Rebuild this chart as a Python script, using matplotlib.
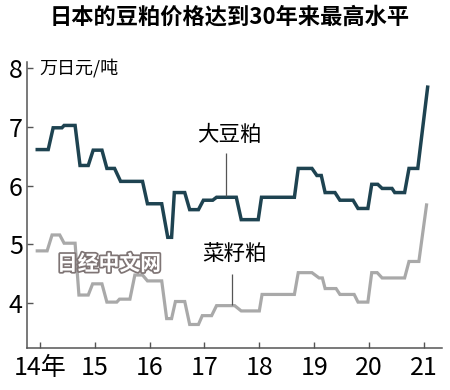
import matplotlib
matplotlib.use("Agg")
from matplotlib import pyplot as plt
from matplotlib import patheffects

plt.rcParams["font.family"] = ["Noto Sans CJK SC", "DejaVu Sans"]

# step-line vertices (year, 10k yen per tonne)
soy_x = [13.95, 14.15, 14.24, 14.40, 14.44, 14.64, 14.73, 14.88, 14.97, 15.13,
         15.22, 15.36, 15.47, 15.87, 15.96, 16.22, 16.33, 16.40, 16.45, 16.64,
         16.73, 16.89, 16.98, 17.15, 17.22, 17.58, 17.67, 17.98, 18.04, 18.64,
         18.71, 18.96, 19.05, 19.13, 19.20, 19.38, 19.47, 19.71, 19.80, 19.98,
         20.05, 20.16, 20.24, 20.42, 20.47, 20.65, 20.73, 20.89, 21.07]
soy_y = [6.61, 6.61, 6.98, 6.98, 7.02, 7.02, 6.34, 6.34, 6.60, 6.60,
         6.29, 6.29, 6.07, 6.07, 5.69, 5.69, 5.12, 5.12, 5.88, 5.88,
         5.59, 5.59, 5.75, 5.75, 5.80, 5.80, 5.42, 5.42, 5.80, 5.80,
         6.29, 6.29, 6.17, 6.17, 5.88, 5.88, 5.75, 5.75, 5.61, 5.61,
         6.02, 6.02, 5.95, 5.95, 5.88, 5.88, 6.29, 6.29, 7.67]

rape_x = [13.95, 14.13, 14.22, 14.36, 14.44, 14.64, 14.71, 14.88, 14.96, 15.13,
          15.22, 15.40, 15.45, 15.64, 15.73, 15.87, 15.96, 16.22, 16.31, 16.40,
          16.47, 16.64, 16.73, 16.89, 16.96, 17.13, 17.22, 17.55, 17.67, 18.00,
          18.05, 18.64, 18.71, 18.96, 19.09, 19.15, 19.20, 19.40, 19.47, 19.73,
          19.80, 19.98, 20.05, 20.15, 20.24, 20.65, 20.73, 20.91, 21.05]
rape_y = [4.89, 4.89, 5.16, 5.16, 5.02, 5.02, 4.14, 4.14, 4.33, 4.33,
          4.02, 4.02, 4.07, 4.07, 4.48, 4.48, 4.38, 4.38, 3.74, 3.74,
          4.03, 4.03, 3.64, 3.64, 3.79, 3.79, 3.96, 3.96, 3.87, 3.87,
          4.15, 4.15, 4.52, 4.52, 4.43, 4.43, 4.25, 4.25, 4.15, 4.15,
          4.02, 4.02, 4.52, 4.52, 4.43, 4.43, 4.71, 4.71, 5.67]

x_ticks = [14, 15, 16, 17, 18, 19, 20, 21]
x_labels = ["14年", "15", "16", "17", "18", "19", "20", "21"]
y_ticks = [4, 5, 6, 7, 8]

tick_font = ["Liberation Sans Narrow", "Noto Sans CJK SC"]

fig = plt.figure(figsize=(4.5, 3.9), dpi=100)
ax = fig.add_axes([0.06, 0.107, 0.922, 0.734])

ax.plot(rape_x, rape_y, color="#a9a9a9", lw=2.3, solid_joinstyle="miter")
ax.plot(soy_x, soy_y, color="#1e4351", lw=2.5, solid_joinstyle="miter")

ax.set_xlim(13.763, 21.33)
ax.set_ylim(3.236, 8.097)

ax.set_xticks(x_ticks)
ax.set_xticklabels(x_labels, family=tick_font, fontsize=18)
ax.set_yticks(y_ticks)
ax.set_yticklabels([str(v) for v in y_ticks], family=tick_font, fontsize=18)
ax.tick_params(direction="in", length=4, width=1, color="#555555", pad=3)
ax.tick_params(axis="x", pad=5)

for side in ["top", "right"]:
    ax.spines[side].set_visible(False)
for side in ["left", "bottom"]:
    ax.spines[side].set_color("#555555")
    ax.spines[side].set_linewidth(1.1)

# series labels with pointer lines
ax.text(17.46, 6.86, "大豆粕", fontsize=15.5, ha="center", va="center")
ax.vlines(17.39, 5.82, 6.55, color="#555555", lw=0.9)
ax.text(17.55, 4.83, "菜籽粕", fontsize=15.5, ha="center", va="center")
ax.vlines(17.50, 3.97, 4.49, color="#555555", lw=0.9)

ax.text(13.98, 8.0, "万日元/吨", fontsize=13, ha="left", va="center")

# watermark
ax.text(15.26, 4.67, "日经中文网", fontsize=15, fontweight="bold",
        color="white", ha="center", va="center",
        path_effects=[patheffects.withStroke(linewidth=2.5, foreground="#7f7575")])

fig.suptitle("日本的豆粕价格达到30年来最高水平", fontsize=16, fontweight="bold",
             x=0.51, y=0.985, va="top")

fig.savefig("out.png", dpi=100)
